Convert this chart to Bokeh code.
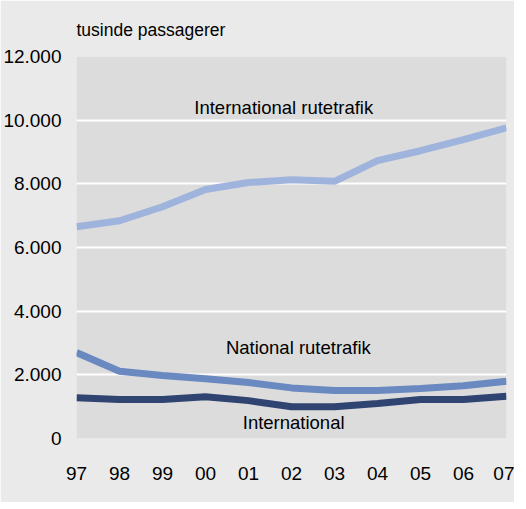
from bokeh.plotting import figure
from bokeh.models import FixedTicker, Range1d
from bokeh.core.properties import value
from bokeh.embed import file_html
from bokeh.resources import INLINE

years = [1997, 1998, 1999, 2000, 2001, 2002, 2003, 2004, 2005, 2006, 2007]
year_labels = ["97", "98", "99", "00", "01", "02", "03", "04", "05", "06", "07"]
intl_rute = [6650, 6840, 7280, 7820, 8040, 8130, 8080, 8730, 9040, 9390, 9760]
natl_rute = [2700, 2110, 1980, 1875, 1760, 1590, 1510, 1510, 1570, 1660, 1800]
intl_other = [1280, 1225, 1225, 1310, 1190, 995, 995, 1100, 1225, 1225, 1330]
y_ticks = [0, 2000, 4000, 6000, 8000, 10000, 12000]
y_tick_labels = ["0", "2.000", "4.000", "6.000", "8.000", "10.000", "12.000"]

FONT = "Liberation Sans"

p = figure(width=514, height=502, output_backend="svg", toolbar_location=None,
           x_range=Range1d(1997, 2007), y_range=Range1d(0, 12000),
           min_border_left=72, min_border_right=8, min_border_top=56, min_border_bottom=64,
           background_fill_color="#dcdcdc", border_fill_color="#eaeaea")
p.outline_line_color = None
p.title.text = "tusinde passagerer"
p.title.text_font = FONT
p.title.text_font_size = "17.5px"
p.title.text_font_style = "normal"
p.title.text_color = "black"
p.title.align = "left"
p.title.offset = 0
p.title.standoff = 34

p.xgrid.grid_line_color = None
p.ygrid.grid_line_color = "white"
p.ygrid.grid_line_width = 2
p.ygrid.ticker = FixedTicker(ticks=y_ticks)

for ax in (p.xaxis[0], p.yaxis[0]):
    ax.axis_line_color = None
    ax.major_tick_line_color = None
    ax.minor_tick_line_color = None
    ax.major_label_text_font = FONT
    ax.major_label_text_font_size = "19px"
    ax.major_label_text_color = "black"

p.yaxis.ticker = FixedTicker(ticks=y_ticks)
p.yaxis.major_label_overrides = dict(zip(y_ticks, y_tick_labels))
p.yaxis.major_label_standoff = 9
p.xaxis.ticker = FixedTicker(ticks=years)
p.xaxis.major_label_overrides = dict(zip(years, year_labels))
p.xaxis.major_label_standoff = 22

p.line(years, intl_rute, line_color="#9fb4dc", line_width=7)
p.line(years, natl_rute, line_color="#6a89c0", line_width=7)
p.line(years, intl_other, line_color="#2f4470", line_width=7)

p.text(x=[2001.82, 2002.16, 2002.05], y=[10390, 2860, 500],
       text=["International rutetrafik", "National rutetrafik", "International"],
       text_font=value(FONT), text_font_size="18.5px", text_color="black",
       text_align="center", text_baseline="middle")

open("out.html", "w").write(file_html(p, INLINE))
